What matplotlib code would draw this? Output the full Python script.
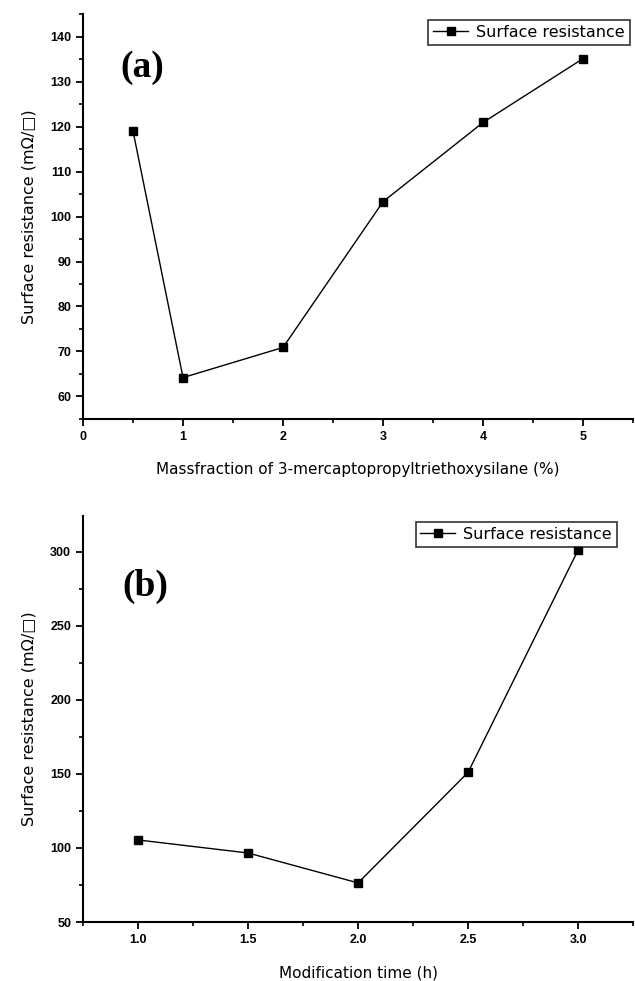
import matplotlib
matplotlib.use("Agg")
from matplotlib import pyplot as plt
from matplotlib.ticker import MultipleLocator

plt.rcParams['font.family'] = ['DejaVu Sans']

# panel (a)
mass_fraction = [0.5, 1, 2, 3, 4, 5]
resistance_a = [119.0, 64.2, 70.9, 103.3, 120.9, 135.1]
# panel (b)
mod_time = [1.0, 1.5, 2.0, 2.5, 3.0]
resistance_b = [105.4, 96.6, 76.4, 151.0, 301.0]

label = "Surface resistance"
ylab = "Surface resistance (m\u03a9/\u25a1)"

fig = plt.figure(figsize=(6.35, 9.81), dpi=100)
ax1 = fig.add_axes([0.1307, 0.5729, 0.8663, 0.4128])
ax2 = fig.add_axes([0.1307, 0.0601, 0.8663, 0.4139])


def style(ax):
    for s in ['top', 'right']:
        ax.spines[s].set_visible(False)
    for s in ['left', 'bottom']:
        ax.spines[s].set_linewidth(1.5)
    ax.tick_params(which='major', direction='out', length=5, width=1.3,
                   labelsize=8.5)
    ax.tick_params(which='minor', direction='out', length=3, width=1.2)
    for t in ax.get_xticklabels() + ax.get_yticklabels():
        t.set_fontweight('bold')
        t.set_family('Liberation Sans')
        t.set_fontsize(9)


ax1.plot(mass_fraction, resistance_a, color='black', linewidth=1,
         marker='s', markersize=6, label=label)
ax1.set_xlim(0, 5.5)
ax1.set_ylim(55, 145)
ax1.xaxis.set_major_locator(MultipleLocator(1))
ax1.xaxis.set_minor_locator(MultipleLocator(0.5))
ax1.yaxis.set_major_locator(MultipleLocator(10))
ax1.yaxis.set_minor_locator(MultipleLocator(5))
style(ax1)
ax1.set_xlabel("Massfraction of 3-mercaptopropyltriethoxysilane (%)",
               fontsize=11, labelpad=14)
ax1.set_ylabel(ylab, fontsize=11.5, labelpad=10)
ax1.text(0.068, 0.91, "(a)", transform=ax1.transAxes, fontsize=27,
         fontweight='bold', family='Liberation Serif', va='top')
leg = ax1.legend(loc='upper right', bbox_to_anchor=(1.008, 1.005),
                 fontsize=11.5, frameon=True, fancybox=False, edgecolor='black',
                 handlelength=2.2, borderpad=0.3, handletextpad=0.5)
leg.get_frame().set_linewidth(1.2)

ax2.plot(mod_time, resistance_b, color='black', linewidth=1,
         marker='s', markersize=6, label=label)
ax2.set_xlim(0.75, 3.25)
ax2.set_ylim(50, 324)
ax2.xaxis.set_major_locator(MultipleLocator(0.5))
ax2.xaxis.set_minor_locator(MultipleLocator(0.25))
ax2.yaxis.set_major_locator(MultipleLocator(50))
ax2.yaxis.set_minor_locator(MultipleLocator(25))
style(ax2)
ax2.set_xlabel("Modification time (h)", fontsize=11, labelpad=14)
ax2.set_ylabel(ylab, fontsize=11.5, labelpad=10)
ax2.text(0.072, 0.87, "(b)", transform=ax2.transAxes, fontsize=27,
         fontweight='bold', family='Liberation Serif', va='top')
leg = ax2.legend(loc='upper right', bbox_to_anchor=(0.985, 1.005),
                 fontsize=11.5, frameon=True, fancybox=False, edgecolor='black',
                 handlelength=2.2, borderpad=0.3, handletextpad=0.5)
leg.get_frame().set_linewidth(1.2)

fig.savefig("out.png", dpi=100)
